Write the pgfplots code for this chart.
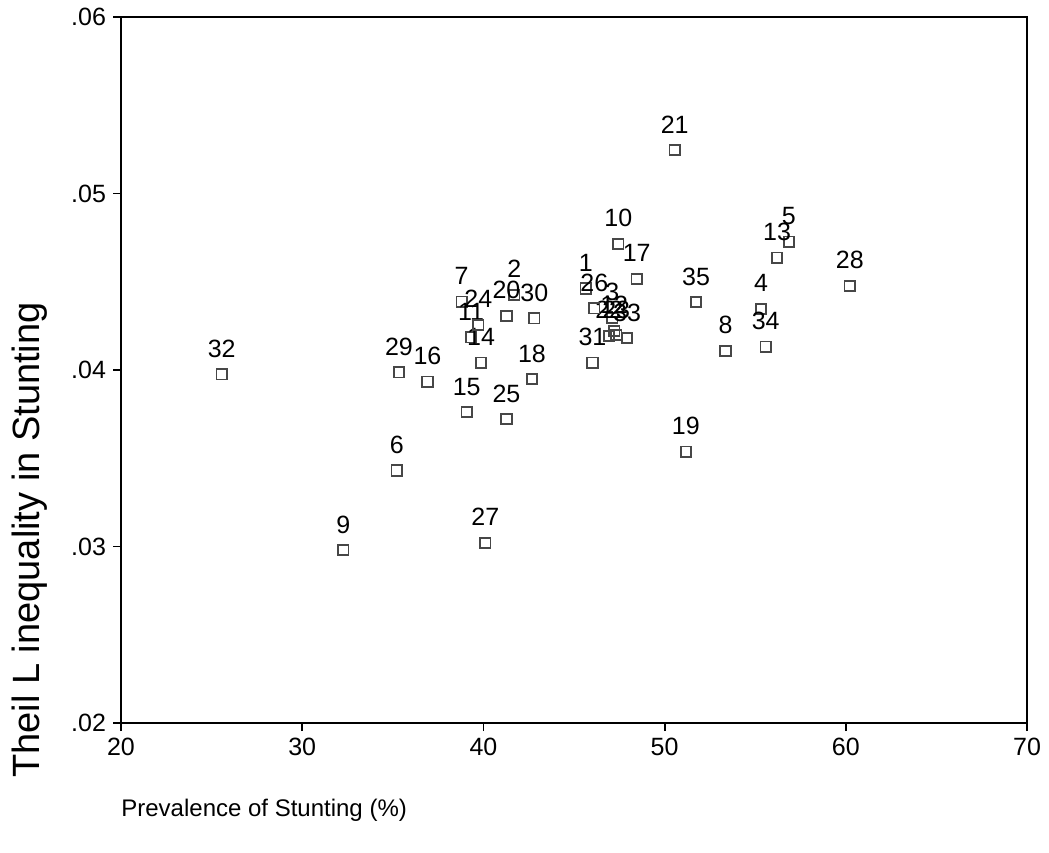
\documentclass[border=0pt]{standalone}
\usepackage{fontspec}
\setmainfont{Liberation Sans}
\usepackage{pgfplots}
\pgfplotsset{compat=1.18}
\usepackage{pgfplotstable}
\pgfplotstableread{
x y lab
45.65 0.04462 1
41.71 0.04425 2
47.11 0.04295 3
55.33 0.04346 4
56.86 0.04727 5
35.22 0.03431 6
38.80 0.04387 7
53.36 0.04108 8
32.27 0.02980 9
47.45 0.04714 10
39.32 0.04185 11
47.22 0.04221 12
56.21 0.04636 13
39.87 0.04041 14
39.08 0.03762 15
36.91 0.03934 16
48.46 0.04516 17
42.68 0.03949 18
51.17 0.03537 19
41.27 0.04306 20
50.56 0.05246 21
46.94 0.04193 22
47.33 0.04198 23
39.72 0.04255 24
41.27 0.03722 25
46.12 0.04350 26
40.11 0.03020 27
60.22 0.04476 28
35.34 0.03987 29
42.81 0.04293 30
46.02 0.04041 31
25.56 0.03976 32
47.93 0.04181 33
55.58 0.04132 34
51.74 0.04385 35
}\pts
\begin{document}
\begin{tikzpicture}
\path[use as bounding box] (-60.5bp,-65bp) rectangle (464bp,361.5bp);
\begin{axis}[
  at={(0,0)}, anchor=south west,
  scale only axis, width=453bp, height=353bp,
  xmin=20, xmax=70, ymin=0.02, ymax=0.06,
  xtick={20,30,40,50,60,70},
  ytick={0.02,0.03,0.04,0.05,0.06},
  yticklabels={.02,.03,.04,.05,.06},
  /pgf/number format/assume math mode=true,
  ticklabel style={font=\fontsize{12.5bp}{15bp}\selectfont},
  tick align=outside, xtick pos=bottom, ytick pos=left,
  major tick length=4bp,
  every tick/.style={black, line width=0.9bp},
  axis line style={line width=1.1bp, black},
  scaled y ticks=false,
  clip=false,
]
\addplot[only marks, mark=square, mark size=2.6bp, draw=black!72, line width=0.9bp,
  nodes near coords, point meta=explicit symbolic,
  every node near coord/.style={anchor=base, yshift=8.5bp, inner sep=0pt, text=black, font=\fontsize{12.5bp}{14bp}\selectfont}]
  table[x=x, y=y, meta=lab] {\pts};
\end{axis}
\node[anchor=west, inner sep=0pt, font=\fontsize{12bp}{14bp}\selectfont] at (0bp,-43.5bp) {Prevalence of Stunting (\%)};
\node[rotate=90, anchor=west, inner sep=0pt, font=\fontsize{19bp}{22bp}\selectfont] at (-45.5bp,-27.5bp) {Theil L inequality in Stunting};
\end{tikzpicture}
\end{document}
